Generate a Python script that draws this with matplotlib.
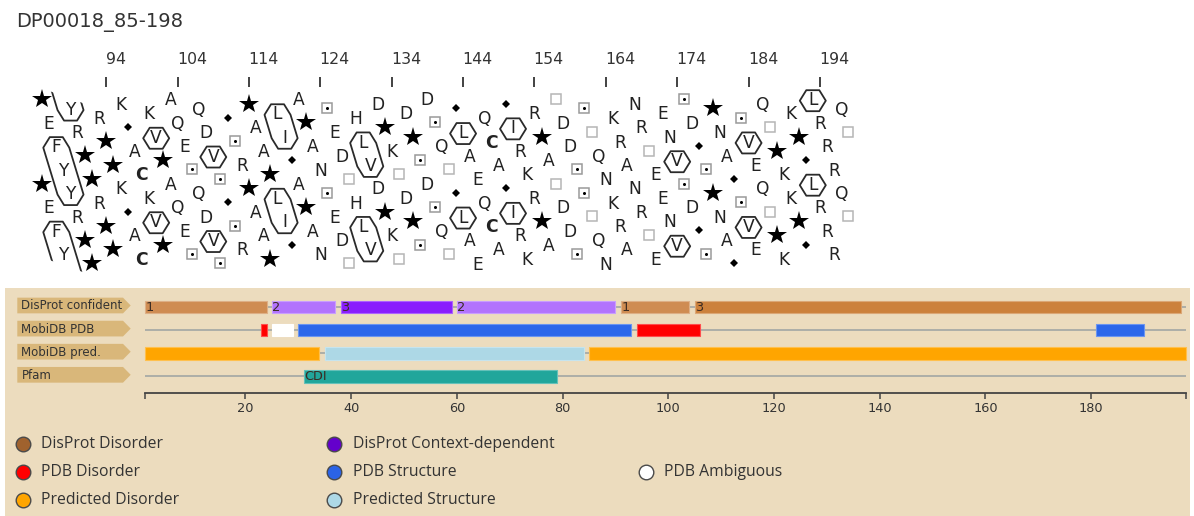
import numpy as np
import matplotlib
matplotlib.use("Agg")
import matplotlib.pyplot as plt
from matplotlib.patches import Polygon

# figure size in pixels
W, H = 1194, 516
DPI = 100

# ---------------- data ----------------
entry = "DP00018_85-198"
seq_start = 85
sequence = ("PEFYYRPPRPPKGACKVPAQESQDVSGSRPAAPLIGAPANSEDTHLVDPK"
            "TDPSDSQTGLAEQCAGIRKRPATDDSSTQNKRANRTEENVSDGSPNAGSV"
            "EQTPKKPGLRRRQT")
hca_ticks = [94, 104, 114, 124, 134, 144, 154, 164, 174, 184, 194]

protein_length = 198
track_names = ["DisProt confident", "MobiDB PDB", "MobiDB pred.", "Pfam"]

disprot_start = [1, 25, 38, 60, 91, 105]
disprot_end = [24, 37, 59, 90, 104, 197]
disprot_label = ["1", "2", "3", "2", "1", "3"]
disprot_color = ["#cf8c52", "#b273fd", "#891dfd", "#b273fd", "#cf8c52", "#cc813c"]

pdb_start = [23, 25, 30, 94, 181]
pdb_end = [24, 29, 93, 106, 190]
pdb_color = ["#ff0000", "#ffffff", "#2c67ea", "#ff0000", "#2c67ea"]

pred_start = [1, 35, 85]
pred_end = [34, 84, 198]
pred_color = ["#ffa500", "#add8e6", "#ffa500"]

pfam_start = [31]
pfam_end = [79]
pfam_label = ["CDI"]
pfam_color = ["#21a69b"]

ruler_ticks = [20, 40, 60, 80, 100, 120, 140, 160, 180]

legend_labels = [["DisProt Disorder", "DisProt Context-dependent"],
                 ["PDB Disorder", "PDB Structure", "PDB Ambiguous"],
                 ["Predicted Disorder", "Predicted Structure"]]
legend_colors = [["#a0622e", "#6400cc"],
                 ["#ff0000", "#2b63e6", "#ffffff"],
                 ["#ffa500", "#add8e6"]]

# ---------------- layout (pixels) ----------------
X0_PX, DX_PX = 42.0, 7.137      # residue 85 position, px per residue
Y0_PX, TURN_PX = 99.0, 84.5     # first row, px per helix turn
HCA_BOTTOM = 288

T_X1, T_PXU = 145.0, 5.286      # position 1 in px, px per residue (tracks)
ROW0, ROW_PX = 307.0, 23.1
TAN = "#ecdcbe"
DARK = "#333333"

fig = plt.figure(figsize=(W / DPI, H / DPI), dpi=DPI)
fig.patch.set_facecolor("white")

fig.text(16 / W, 1 - 22 / H, entry, fontsize=14, color=DARK, va="center", ha="left")

# ---------------- HCA plot ----------------
def res_of(px):
    return seq_start + (px - X0_PX) / DX_PX

def turn_of(py):
    return (py - Y0_PX) / TURN_PX

ax = fig.add_axes([0, 1 - HCA_BOTTOM / H, 1, (HCA_BOTTOM - 40) / H])
ax.set_xlim(res_of(0), res_of(W))
ax.set_ylim(turn_of(HCA_BOTTOM), turn_of(40))
ax.axis("off")

n = len(sequence)
idx = np.arange(n)
res = seq_start + idx
turn = ((idx * 100) % 360) / 360.0

# position ticks
ax.vlines(hca_ticks, turn_of(77.5), turn_of(86.5), color=DARK, lw=1.3)
for t in hca_ticks:
    ax.text(t - 0.1, turn_of(60), str(t), fontsize=11.3, color=DARK, ha="left", va="center")

for copy in (0, 1):
    for i in idx:
        aa = sequence[i]
        x, y = res[i], turn[i] + copy
        if aa == "P":
            ax.plot(x, y, marker="*", ms=15, color="black", mew=0)
        elif aa == "G":
            ax.plot(x, y, marker="D", ms=4.3, color="black", mew=0)
        elif aa == "T":
            ax.plot(x, y, marker="s", ms=7.3, mfc="white", mec="#b5b5b5", mew=1.1)
        elif aa == "S":
            ax.plot(x, y, marker="s", ms=7.3, mfc="white", mec="#9a9a9a", mew=1.1)
            ax.plot(x, y, marker="o", ms=2.2, color="black", mew=0)
        else:
            ax.text(x, y + 0.015, aa, fontsize=12.3, color="#222222", ha="center", va="center",
                    fontweight="bold" if aa == "C" else "normal")

# hydrophobic clusters
HYDRO = set("VILFMYW")
clusters = []
for i in idx:
    if sequence[i] not in HYDRO:
        continue
    if clusters and i - clusters[-1][-1] <= 4 and "P" not in sequence[clusters[-1][-1] + 1:i]:
        clusters[-1].append(i)
    else:
        clusters.append([i])

hex_x = np.array([-13, -6.5, 6.5, 13, 6.5, -6.5]) / DX_PX
hex_y = np.array([0, -10.5, -10.5, 0, 10.5, 10.5]) / TURN_PX + 0.02


def convex_hull(points):
    pts = sorted(set(points))

    def cross(o, a, b):
        return (a[0] - o[0]) * (b[1] - o[1]) - (a[1] - o[1]) * (b[0] - o[0])

    lower, upper = [], []
    for p in pts:
        while len(lower) >= 2 and cross(lower[-2], lower[-1], p) <= 0:
            lower.pop()
        lower.append(p)
    for p in reversed(pts):
        while len(upper) >= 2 and cross(upper[-2], upper[-1], p) <= 0:
            upper.pop()
        upper.append(p)
    return lower[:-1] + upper[:-1]


slope_t = 0.36 * DX_PX / TURN_PX
top_t = turn_of(93.5)
for c in clusters:
    ts = [turn[c[0]]]
    for prev, cur in zip(c[:-1], c[1:]):
        step = ((cur - prev) * 100) % 360
        if step > 180:
            step -= 360
        ts.append(ts[-1] + step / 360.0)
    ts = np.array(ts)
    xs = res[c]
    for k in (-1, 0, 1, 2):
        tt = ts + k
        vis = (tt >= 0) & (tt < 2)
        if not vis.any():
            continue
        pts = [(float(x + dx), float(y + dy)) for x, y in zip(xs, tt) for dx, dy in zip(hex_x, hex_y)]
        hull = convex_hull(pts)
        poly = Polygon(hull, closed=True, fill=False, ec="#2a2a2a", lw=1.3, joinstyle="round")
        ax.add_patch(poly)
        if not vis.all():
            x_a, x_b = xs[0] - 5, xs[-1] + 5
            y_a = top_t + slope_t * (x_a - xs[0])
            y_b = top_t + slope_t * (x_b - xs[0])
            clip = Polygon([(x_a, y_a), (x_b, y_b), (x_b, y_b + 2), (x_a, y_a + 2)],
                           closed=True, transform=ax.transData)
            poly.set_clip_path(clip)

# ---------------- feature tracks ----------------
def tx(px):
    return 1 + (px - T_X1) / T_PXU

def ty(py):
    return (py - ROW0) / ROW_PX

tk = fig.add_axes([5 / W, 0, 1185 / W, (H - 288) / H])
tk.set_xlim(tx(5), tx(1190))
tk.set_ylim(ty(H), ty(288))
tk.set_facecolor(TAN)
for s in tk.spines.values():
    s.set_visible(False)
tk.set_xticks([])
tk.set_yticks([])

rows = np.arange(len(track_names))
tk.hlines(rows, 1, protein_length, color="#9ca2a2", lw=1.1, zorder=1)

# label arrows
box_h = 15.7 / ROW_PX
for r, name in zip(rows, track_names):
    yc = r - 1.5 / ROW_PX
    arrow = [(tx(17.3), yc - box_h / 2), (tx(123), yc - box_h / 2), (tx(130.7), yc),
             (tx(123), yc + box_h / 2), (tx(17.3), yc + box_h / 2)]
    tk.add_patch(Polygon(arrow, closed=True, fc="#d9b77a", ec="none"))
    tk.text(tx(21.5), yc + 0.02, name, fontsize=8.5, color=DARK, ha="left", va="center")


def lighten(col, f=0.3):
    rgb = np.array(matplotlib.colors.to_rgb(col))
    return tuple(rgb + (1 - rgb) * f)


def draw_track(row, starts, ends, colors, labels=None):
    widths = np.array(ends) - np.array(starts)
    tk.barh([row] * len(starts), widths, left=starts, height=0.55, color=colors,
            edgecolor=[lighten(c) for c in colors], linewidth=0.8, zorder=2)
    if labels:
        for s, lab in zip(starts, labels):
            tk.text(s + 0.1, row + 0.03, lab, fontsize=9.3, color="#3b2b22",
                    ha="left", va="center", zorder=3)


draw_track(0, disprot_start, disprot_end, disprot_color, disprot_label)
draw_track(1, pdb_start, pdb_end, pdb_color)
draw_track(2, pred_start, pred_end, pred_color)
draw_track(3, pfam_start, pfam_end, pfam_color, pfam_label)

# ruler
ru = fig.add_axes([T_X1 / W, (H - 392.7) / H, (protein_length - 1) * T_PXU / W, 2 / H])
ru.set_xlim(1, protein_length)
ru.patch.set_visible(False)
for side in ("top", "left", "right"):
    ru.spines[side].set_visible(False)
ru.spines["bottom"].set_color("#444444")
ru.spines["bottom"].set_linewidth(1.3)
ru.set_yticks([])
ru.set_xticks([1] + ruler_ticks + [protein_length])
ru.set_xticklabels([""] + [str(t) for t in ruler_ticks] + [""])
ru.tick_params(axis="x", direction="out", length=4.3, width=1.1, color="#444444",
               labelsize=9.3, labelcolor=DARK, pad=2.2)

# legend
leg_x = [22.7, 334.3, 646.0]
leg_y = [444.3, 472.3, 500.0]
for r, (labs, cols) in enumerate(zip(legend_labels, legend_colors)):
    for c, (lab, col) in enumerate(zip(labs, cols)):
        tk.plot(tx(leg_x[c]), ty(leg_y[r]), "o", ms=10.5, mfc=col, mec="#4a4a4a", mew=1.0)
        tk.text(tx(leg_x[c] + 18.5), ty(leg_y[r]), lab, fontsize=11.3, color=DARK,
                ha="left", va="center", family="Open Sans")

fig.savefig("out.png", dpi=DPI)
